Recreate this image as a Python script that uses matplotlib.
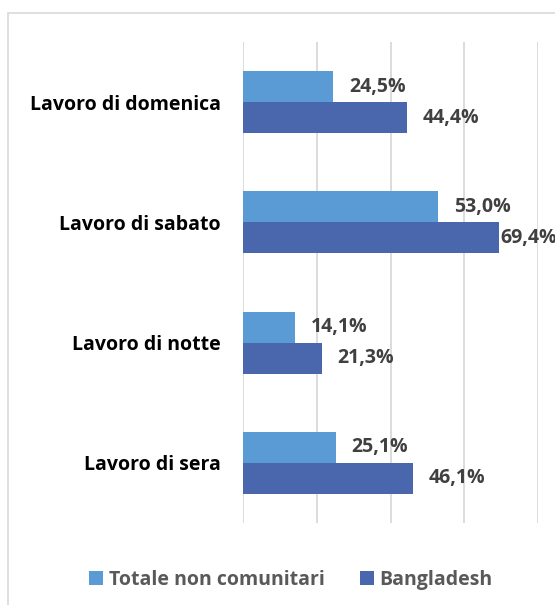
import numpy as np
import matplotlib
matplotlib.use("Agg")
from matplotlib import pyplot as plt
from matplotlib.patches import Rectangle

categorie = ["Lavoro di domenica", "Lavoro di sabato", "Lavoro di notte", "Lavoro di sera"]
totale_non_comunitari = [24.5, 53.0, 14.1, 25.1]
bangladesh = [44.4, 69.4, 21.3, 46.1]
serie_nomi = ["Totale non comunitari", "Bangladesh"]

col_chiaro = "#5B9BD5"
col_scuro = "#4A66AC"

plt.rcParams["font.family"] = ["Open Sans", "DejaVu Sans"]

fig = plt.figure(figsize=(5.55, 6.05), dpi=100)
ax = fig.add_axes([243/555, 1-523/605, 295/555, 481/605])

# cornice del grafico
fig.patches.append(Rectangle((8/555, -0.05), 1.2, 1-13/605+0.05, transform=fig.transFigure,
                             fill=False, edgecolor="#D9D9D9", linewidth=1.2))

y = np.arange(len(categorie))
h = 0.258
b1 = ax.barh(y - h/2, totale_non_comunitari, height=h, color=col_chiaro, label=serie_nomi[0])
b2 = ax.barh(y + h/2, bangladesh, height=h, color=col_scuro, label=serie_nomi[1])

for bars, vals in [(b1, totale_non_comunitari), (b2, bangladesh)]:
    for bar, v in zip(bars, vals):
        off = 1 if v > 65 else 16
        ax.annotate(f"{v:.1f}%".replace(".", ","),
                    (bar.get_width(), bar.get_y() + bar.get_height()/2),
                    xytext=(off, 0), textcoords="offset pixels",
                    va="center", ha="left", fontsize=14, fontweight="bold",
                    color="#404040", annotation_clip=False)

ax.set_xlim(0, 80)
ax.set_ylim(len(categorie) - 0.5, -0.5)
ax.set_xticks([0, 20, 40, 60, 80])
ax.set_xticklabels([])
ax.tick_params(axis="x", length=0)
ax.grid(axis="x", color="#D9D9D9", linewidth=1.3)
ax.set_axisbelow(True)
ax.set_yticks(y)
ax.set_yticklabels(categorie, fontsize=14, fontweight="bold", color="black")
ax.tick_params(axis="y", length=0, pad=16)
for s in ax.spines.values():
    s.set_visible(False)

leg = fig.legend(handles=[b1, b2], loc="center", bbox_to_anchor=(291/555, 1-580/605),
                 ncol=2, frameon=False, fontsize=14, handlelength=0.7, handleheight=0.7,
                 handletextpad=0.3, columnspacing=1.85)
for t in leg.get_texts():
    t.set_color("#595959")
    t.set_fontweight("bold")

fig.savefig("out.png", dpi=100)
